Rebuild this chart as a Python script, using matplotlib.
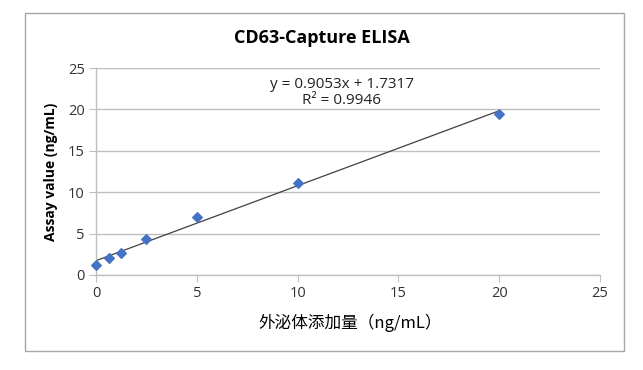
import matplotlib
matplotlib.use("Agg")
import matplotlib.pyplot as plt
from matplotlib.patches import Rectangle
import numpy as np

plt.rcParams['font.family'] = ['Open Sans', 'Noto Sans CJK SC', 'DejaVu Sans']

title = "CD63-Capture ELISA"
x_label = "外泌体添加量（ng/mL）"
y_label = "Assay value (ng/mL)"
x_vals = [0, 0.625, 1.25, 2.5, 5, 10, 20]
y_vals = [1.2, 2.0, 2.6, 4.3, 7.0, 11.1, 19.5]
slope = 0.9053
intercept = 1.7317
r2 = 0.9946
x_ticks = [0, 5, 10, 15, 20, 25]
y_ticks = [0, 5, 10, 15, 20, 25]

fig = plt.figure(figsize=(6.43, 3.70), dpi=100)
fig.patch.set_facecolor('white')
fig.patches.append(Rectangle((25/643, 1-351/370), (624-25)/643, (351-13)/370,
                             transform=fig.transFigure, fill=False,
                             edgecolor='#A6A6A6', linewidth=1.0))

ax = fig.add_axes([96/643, 1-275/370, (600-96)/643, (275-68)/370])
ax.set_xlim(0, 25)
ax.set_ylim(0, 25)
ax.set_xticks(x_ticks)
ax.set_yticks(y_ticks)
ax.yaxis.grid(True, color='#BFBFBF', linewidth=1.0)
ax.set_axisbelow(True)
for s in ['top', 'right']:
    ax.spines[s].set_visible(False)
for s in ['left', 'bottom']:
    ax.spines[s].set_color('#BFBFBF')
    ax.spines[s].set_linewidth(1.0)
ax.tick_params(axis='both', direction='out', length=5, color='#BFBFBF',
               labelsize=10.5, labelcolor='#333333', pad=3)

xl = np.array([min(x_vals), max(x_vals)])
ax.plot(xl, slope*xl + intercept, color='#404040', linewidth=0.9, zorder=2)
ax.scatter(x_vals, y_vals, marker='D', s=24, color='#4472C4', zorder=3, clip_on=False)

ax.text(0.488, 0.955, f"y = {slope}x + {intercept}\nR² = {r2}", transform=ax.transAxes,
        ha='center', va='top', fontsize=11, color='#222222', linespacing=1.1)

fig.text(0.5, 1-38/370, title, ha='center', va='center', fontsize=13, fontweight='bold')
fig.text(350/643, 1-323/370, x_label, ha='center', va='center', fontsize=12,
         family=['Noto Sans CJK SC', 'DejaVu Sans'])
ax.set_ylabel(y_label, fontsize=10, fontweight='bold', labelpad=7)

fig.savefig("out.png", dpi=100)
